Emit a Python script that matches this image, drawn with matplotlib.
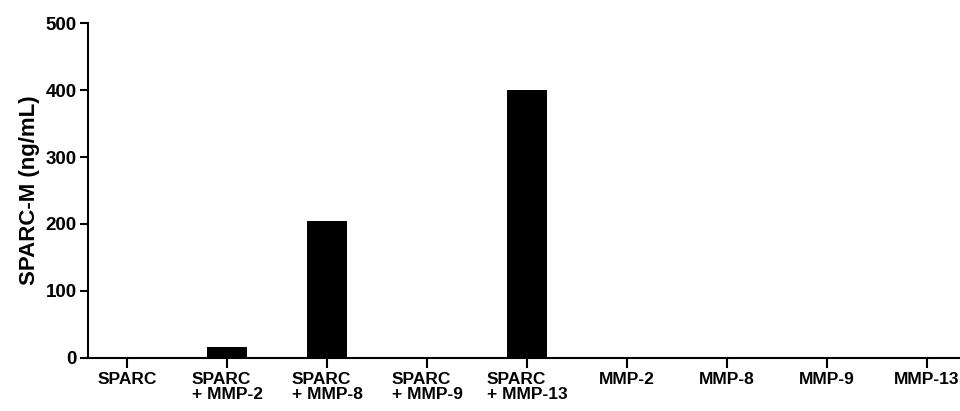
import numpy as np
import matplotlib.pyplot as plt

# Datos del gráfico
categorias = ["SPARC", "SPARC\n+ MMP-2", "SPARC\n+ MMP-8", "SPARC\n+ MMP-9", "SPARC\n+ MMP-13",
              "MMP-2", "MMP-8", "MMP-9", "MMP-13"]
valores = [0, 16, 205, 0, 400, 0, 0, 0, 0]
yticks = [0, 100, 200, 300, 400, 500]

plt.rcParams['font.family'] = ['Liberation Sans', 'DejaVu Sans']
plt.rcParams['font.weight'] = 'bold'

fig = plt.figure(figsize=(9.6, 4.11), dpi=100)
ax = fig.add_axes([0.0917, 0.129, 0.9083, 0.815])

x = np.arange(len(categorias))
ax.bar(x, valores, width=0.4, color="black")

ax.set_xlim(-0.39, 8.33)
ax.set_ylim(0, 500)
ax.set_yticks(yticks)
ax.set_xticks(x)
ax.set_xticklabels(categorias, fontsize=12.5, fontweight='bold', linespacing=1.0)
# alinear la segunda línea a la izquierda como en el original
for lbl in ax.get_xticklabels():
    lbl.set_multialignment('left')
ax.tick_params(axis='y', labelsize=13.5, width=1.5, length=6, direction='out', pad=2)
ax.tick_params(axis='x', width=1.5, length=7, direction='out', pad=3)
ax.set_ylabel("SPARC-M (ng/mL)", fontsize=16, fontweight='bold', labelpad=4)

for s in ['top', 'right']:
    ax.spines[s].set_visible(False)
for s in ['left', 'bottom']:
    ax.spines[s].set_linewidth(1.5)

fig.savefig("out.png", dpi=100)
